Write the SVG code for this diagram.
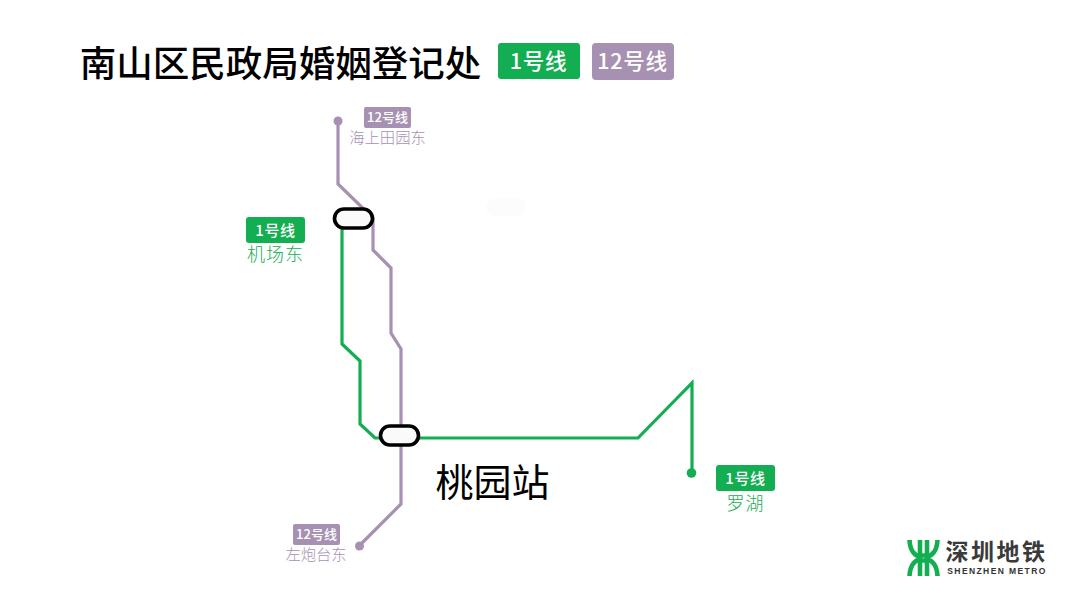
<svg xmlns="http://www.w3.org/2000/svg" width="1080" height="593" viewBox="0 0 1080 593">
<style>
text{font-family:"Noto Sans CJK SC","Noto Sans",sans-serif;text-anchor:middle}
.line{fill:none;stroke-width:3.2;stroke-linejoin:miter}
.g{stroke:#14ae52}.p{stroke:#a791b2}
.gf{fill:#14ae52}.pf{fill:#a791b2}
.badge{fill:#fff;font-size:15px;font-weight:500;letter-spacing:.6px}
.small{fill:#fff;font-size:13px;font-weight:500}
.big{fill:#fff;font-size:21.500px;font-weight:500;letter-spacing:.7px}
.name15{font-size:15.300px;font-weight:300}
.name17{font-size:18px;letter-spacing:1px;font-weight:300}
.st{fill:#fafafa;stroke:#000;stroke-width:3.6}
.mark{fill:none;stroke:#14ae52;stroke-width:4.600}
</style>
<rect width="1080" height="593" fill="#fff"/>
<g id="title">
<text x="280.500" y="77" font-size="36.500" font-weight="500" fill="#000">南山区民政局婚姻登记处</text>
<rect x="498" y="43" width="82" height="36" rx="3" class="gf"/>
<text x="538.500" y="69" class="big">1号线</text>
<rect x="592" y="43" width="82" height="37" rx="4" class="pf"/>
<text x="632.500" y="69" class="big">12号线</text>
</g>
<rect id="faint" x="486" y="198" width="40" height="18" rx="9" fill="#fcfcfc"/>
<g id="connectors">
<path class="line p" d="M338 121V184L373 218V250L391 268V333L401 349V504L359 546"/>
<path class="line g" d="M342 218V344L360 361V424L375 438H638L692 383V473"/>
</g>
<g id="station-haishang">
<circle cx="338" cy="121" r="4.500" class="pf"/>
<rect x="364" y="107" width="47" height="21" rx="2" class="pf"/>
<text x="387.500" y="122" class="small">12号线</text>
<text x="387.500" y="143" class="name15 pf">海上田园东</text>
</g>
<g id="station-jichang">
<rect x="246" y="217" width="59" height="26" rx="3" class="gf"/>
<text x="275.500" y="236" class="badge">1号线</text>
<text x="275.500" y="261" class="name17 gf">机场东</text>
</g>
<g id="interchange-1"><rect x="334.500" y="209" width="38" height="19" rx="9.500" class="st"/></g>
<g id="interchange-taoyuan"><rect x="380.500" y="426" width="38" height="19" rx="9.500" class="st"/></g>
<text id="taoyuan" x="492.500" y="496" font-size="38" fill="#000">桃园站</text>
<g id="station-zuopao">
<circle cx="359.500" cy="546" r="4.500" class="pf"/>
<rect x="293" y="524" width="47" height="21" rx="2" class="pf"/>
<text x="316.500" y="539" class="small">12号线</text>
<text x="316" y="560" class="name15 pf">左炮台东</text>
</g>
<g id="station-luohu">
<circle cx="691.500" cy="473" r="4.800" class="gf"/>
<rect x="716" y="465" width="59" height="26" rx="3" class="gf"/>
<text x="745.500" y="484" class="badge">1号线</text>
<text x="745.500" y="510" class="name17 gf">罗湖</text>
</g>
<g id="logo">
<path class="mark" d="M909.500 540C910 551 915 556 920 556.500V540M937.500 540C937 551 932 556 927 556.500V540M909.500 576C910 565 915 560 920 559.500V576M937.500 576C937 565 932 560 927 559.500V576M920 555.500H927M920 560.500H927"/>
<text x="996.500" y="560" font-size="23" fill="#3a3a3a" font-weight="700" style="letter-spacing:2.500px">深圳地铁</text>
<text x="997" y="574" font-size="8.500" fill="#333" font-weight="700" style="font-family:'Liberation Sans',sans-serif;letter-spacing:1.400px">SHENZHEN METRO</text>
</g>
</svg>
